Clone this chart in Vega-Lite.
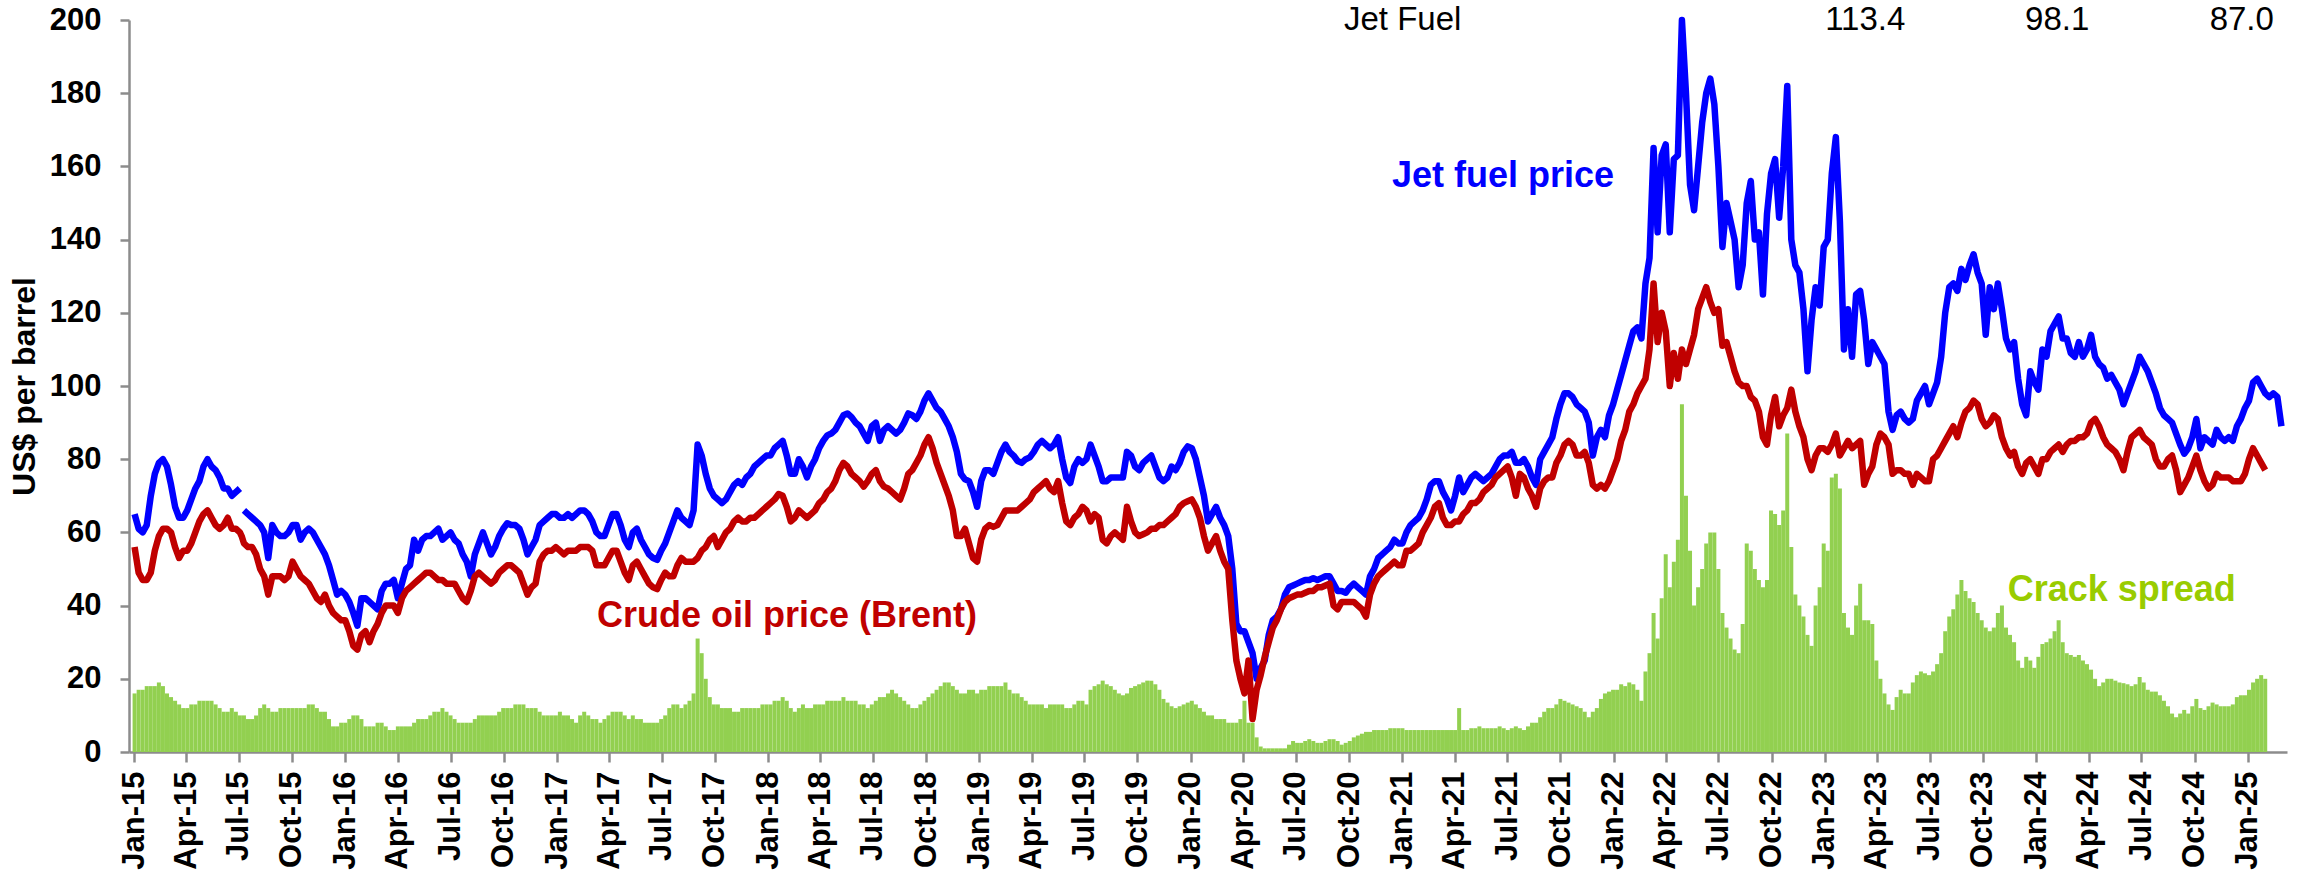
{
"$schema": "https://vega.github.io/schema/vega-lite/v6.json",
"width": 2158, "height": 732,
"autosize": {"type": "none"},
"padding": {"left": 129, "top": 20, "right": 18, "bottom": 127},
"background": "white",
"config": {"view": {"stroke": null}, "font": "Liberation Sans",
 "axisY": {"labelFont": "Liberation Sans", "labelFontSize": 31, "labelFontWeight": "bold", "labelColor": "#000000", "labelPadding": 19,
   "tickSize": 9, "tickWidth": 2.5, "tickColor": "#8C8C8C", "domainColor": "#8C8C8C", "domainWidth": 2.5, "grid": false,
   "titleFont": "Liberation Sans", "titleFontSize": 32, "titleFontWeight": "bold", "titleColor": "#000000", "titlePadding": 8}},
"datasets": {
"prices": [
{"d":"2015-01-02","j":65,"b":56,"c":16},{"d":"2015-01-09","j":61,"b":49,"c":17},{"d":"2015-01-16","j":60,"b":47,"c":17},{"d":"2015-01-23","j":62,"b":47,"c":18},{"d":"2015-01-30","j":70,"b":49,"c":18},{"d":"2015-02-06","j":76,"b":55,"c":18},{"d":"2015-02-13","j":79,"b":59,"c":19},{"d":"2015-02-20","j":80,"b":61,"c":18},{"d":"2015-02-27","j":78,"b":61,"c":16},{"d":"2015-03-06","j":73,"b":60,"c":15},{"d":"2015-03-13","j":67,"b":56,"c":14},{"d":"2015-03-20","j":64,"b":53,"c":13},{"d":"2015-03-27","j":64,"b":55,"c":12},{"d":"2015-04-03","j":66,"b":55,"c":12},{"d":"2015-04-10","j":69,"b":57,"c":13},{"d":"2015-04-17","j":72,"b":60,"c":13},{"d":"2015-04-24","j":74,"b":63,"c":14},{"d":"2015-05-01","j":78,"b":65,"c":14},{"d":"2015-05-08","j":80,"b":66,"c":14},{"d":"2015-05-15","j":78,"b":64,"c":14},{"d":"2015-05-22","j":77,"b":62,"c":13},{"d":"2015-05-29","j":75,"b":61,"c":12},{"d":"2015-06-05","j":72,"b":62,"c":11},{"d":"2015-06-12","j":72,"b":64,"c":11},{"d":"2015-06-19","j":70,"b":61,"c":12},{"d":"2015-06-26","j":71,"b":61,"c":11},{"d":"2015-07-03","j":72,"b":60,"c":10},{"d":"2015-07-06","j":null,"b":59,"c":null},{"d":"2015-07-10","j":66,"b":57,"c":10},{"d":"2015-07-17","j":65,"b":56,"c":9},{"d":"2015-07-24","j":64,"b":56,"c":9},{"d":"2015-07-31","j":63,"b":54,"c":10},{"d":"2015-08-07","j":62,"b":50,"c":12},{"d":"2015-08-14","j":60,"b":48,"c":13},{"d":"2015-08-21","j":53,"b":43,"c":12},{"d":"2015-08-28","j":62,"b":48,"c":11},{"d":"2015-09-04","j":60,"b":48,"c":11},{"d":"2015-09-11","j":59,"b":48,"c":12},{"d":"2015-09-18","j":59,"b":47,"c":12},{"d":"2015-09-25","j":60,"b":48,"c":12},{"d":"2015-10-02","j":62,"b":52,"c":12},{"d":"2015-10-09","j":62,"b":50,"c":12},{"d":"2015-10-16","j":58,"b":48,"c":12},{"d":"2015-10-23","j":60,"b":47,"c":12},{"d":"2015-10-30","j":61,"b":46,"c":13},{"d":"2015-11-06","j":60,"b":44,"c":13},{"d":"2015-11-13","j":58,"b":42,"c":12},{"d":"2015-11-20","j":56,"b":41,"c":11},{"d":"2015-11-27","j":54,"b":43,"c":11},{"d":"2015-12-04","j":51,"b":40,"c":9},{"d":"2015-12-11","j":47,"b":38,"c":7},{"d":"2015-12-18","j":43,"b":37,"c":7},{"d":"2015-12-25","j":44,"b":36,"c":8},
{"d":"2016-01-01","j":43,"b":36,"c":8},{"d":"2016-01-08","j":41,"b":33,"c":9},{"d":"2016-01-15","j":38,"b":29,"c":10},{"d":"2016-01-22","j":34.5,"b":28,"c":10},{"d":"2016-01-29","j":42,"b":32,"c":9},{"d":"2016-02-05","j":42,"b":33,"c":7},{"d":"2016-02-12","j":41,"b":30,"c":7},{"d":"2016-02-19","j":40,"b":33,"c":7},{"d":"2016-02-26","j":39,"b":35,"c":8},{"d":"2016-03-04","j":44,"b":38,"c":8},{"d":"2016-03-11","j":46,"b":40,"c":7},{"d":"2016-03-18","j":46,"b":40,"c":6},{"d":"2016-03-25","j":47,"b":40,"c":6},{"d":"2016-04-01","j":42,"b":38,"c":7},{"d":"2016-04-08","j":46,"b":42,"c":7},{"d":"2016-04-15","j":50,"b":44,"c":7},{"d":"2016-04-22","j":51,"b":45,"c":7},{"d":"2016-04-29","j":58,"b":46,"c":8},{"d":"2016-05-06","j":55,"b":47,"c":9},{"d":"2016-05-13","j":58,"b":48,"c":9},{"d":"2016-05-20","j":59,"b":49,"c":9},{"d":"2016-05-27","j":59,"b":49,"c":10},{"d":"2016-06-03","j":60,"b":48,"c":11},{"d":"2016-06-10","j":61,"b":47,"c":11},{"d":"2016-06-17","j":58,"b":47,"c":12},{"d":"2016-06-24","j":59,"b":46,"c":11},{"d":"2016-07-01","j":60,"b":46,"c":10},{"d":"2016-07-08","j":58,"b":46,"c":9},{"d":"2016-07-15","j":57,"b":44,"c":8},{"d":"2016-07-22","j":54,"b":42,"c":8},{"d":"2016-07-29","j":52,"b":41,"c":8},{"d":"2016-08-05","j":48,"b":44,"c":8},{"d":"2016-08-12","j":54,"b":48,"c":9},{"d":"2016-08-19","j":57,"b":49,"c":10},{"d":"2016-08-26","j":60,"b":48,"c":10},{"d":"2016-09-02","j":57,"b":47,"c":10},{"d":"2016-09-09","j":54,"b":46,"c":10},{"d":"2016-09-16","j":56,"b":47,"c":10},{"d":"2016-09-23","j":59,"b":49,"c":11},{"d":"2016-09-30","j":61,"b":50,"c":12},{"d":"2016-10-07","j":62.5,"b":51,"c":12},{"d":"2016-10-14","j":62,"b":51,"c":12},{"d":"2016-10-21","j":62,"b":50,"c":13},{"d":"2016-10-28","j":61,"b":49,"c":13},{"d":"2016-11-04","j":58,"b":46,"c":13},{"d":"2016-11-11","j":54,"b":43,"c":12},{"d":"2016-11-18","j":56,"b":45,"c":12},{"d":"2016-11-25","j":58,"b":46,"c":12},{"d":"2016-12-02","j":62,"b":52,"c":11},{"d":"2016-12-09","j":63,"b":54,"c":10},{"d":"2016-12-16","j":64,"b":55,"c":10},{"d":"2016-12-23","j":65,"b":55,"c":10},{"d":"2016-12-30","j":65,"b":56,"c":10},
{"d":"2017-01-06","j":64,"b":55,"c":11},{"d":"2017-01-13","j":64,"b":54,"c":10},{"d":"2017-01-20","j":65,"b":55,"c":10},{"d":"2017-01-27","j":64,"b":55,"c":9},{"d":"2017-02-03","j":65,"b":55,"c":8},{"d":"2017-02-10","j":66,"b":56,"c":10},{"d":"2017-02-17","j":66,"b":56,"c":11},{"d":"2017-02-24","j":65,"b":56,"c":10},{"d":"2017-03-03","j":63,"b":55,"c":9},{"d":"2017-03-10","j":60,"b":51,"c":9},{"d":"2017-03-17","j":59,"b":51,"c":8},{"d":"2017-03-24","j":59,"b":51,"c":9},{"d":"2017-03-31","j":62,"b":53,"c":10},{"d":"2017-04-07","j":65,"b":55,"c":11},{"d":"2017-04-14","j":65,"b":55,"c":11},{"d":"2017-04-21","j":62,"b":52,"c":11},{"d":"2017-04-28","j":58,"b":49,"c":10},{"d":"2017-05-05","j":56,"b":47,"c":9},{"d":"2017-05-12","j":60,"b":51,"c":10},{"d":"2017-05-19","j":61,"b":52,"c":9},{"d":"2017-05-26","j":58,"b":50,"c":9},{"d":"2017-06-02","j":56,"b":48,"c":8},{"d":"2017-06-09","j":54,"b":46,"c":8},{"d":"2017-06-16","j":53,"b":45,"c":8},{"d":"2017-06-23","j":52.5,"b":44.5,"c":8},{"d":"2017-06-30","j":55,"b":47,"c":9},{"d":"2017-07-07","j":57,"b":49,"c":10},{"d":"2017-07-14","j":60,"b":48,"c":12},{"d":"2017-07-21","j":63,"b":48,"c":13},{"d":"2017-07-28","j":66,"b":51,"c":13},{"d":"2017-08-04","j":64,"b":53,"c":12},{"d":"2017-08-11","j":63,"b":52,"c":13},{"d":"2017-08-18","j":62,"b":52,"c":14},{"d":"2017-08-25","j":66,"b":52,"c":16},{"d":"2017-09-01","j":84,"b":53,"c":31},{"d":"2017-09-08","j":81,"b":55,"c":27},{"d":"2017-09-15","j":76,"b":56,"c":20},{"d":"2017-09-22","j":72,"b":58,"c":15},{"d":"2017-09-29","j":70,"b":59,"c":13},{"d":"2017-10-06","j":69,"b":56,"c":13},{"d":"2017-10-13","j":68,"b":58,"c":12},{"d":"2017-10-20","j":69,"b":60,"c":12},{"d":"2017-10-27","j":71,"b":61,"c":12},{"d":"2017-11-03","j":73,"b":63,"c":11},{"d":"2017-11-10","j":74,"b":64,"c":11},{"d":"2017-11-17","j":73,"b":63,"c":12},{"d":"2017-11-24","j":75,"b":63,"c":12},{"d":"2017-12-01","j":76,"b":64,"c":12},{"d":"2017-12-08","j":78,"b":64,"c":12},{"d":"2017-12-15","j":79,"b":65,"c":12},{"d":"2017-12-22","j":80,"b":66,"c":13},{"d":"2017-12-29","j":81,"b":67,"c":13},
{"d":"2018-01-05","j":81,"b":68,"c":13},{"d":"2018-01-12","j":83,"b":69,"c":14},{"d":"2018-01-19","j":84,"b":70.5,"c":14},{"d":"2018-01-26","j":85,"b":70,"c":15},{"d":"2018-02-02","j":81,"b":67,"c":14},{"d":"2018-02-09","j":76,"b":63,"c":12},{"d":"2018-02-16","j":76,"b":64,"c":11},{"d":"2018-02-23","j":80,"b":66,"c":12},{"d":"2018-03-02","j":78,"b":65,"c":13},{"d":"2018-03-09","j":75,"b":64,"c":12},{"d":"2018-03-16","j":78,"b":65,"c":12},{"d":"2018-03-23","j":80,"b":66,"c":13},{"d":"2018-03-30","j":83,"b":68,"c":13},{"d":"2018-04-06","j":85,"b":69,"c":13},{"d":"2018-04-13","j":86.5,"b":71,"c":14},{"d":"2018-04-20","j":87,"b":72,"c":14},{"d":"2018-04-27","j":88,"b":74,"c":14},{"d":"2018-05-04","j":90,"b":77,"c":14},{"d":"2018-05-11","j":92,"b":79,"c":15},{"d":"2018-05-18","j":92.5,"b":78,"c":14},{"d":"2018-05-25","j":91.5,"b":76,"c":14},{"d":"2018-06-01","j":90,"b":75,"c":14},{"d":"2018-06-08","j":89,"b":74,"c":13},{"d":"2018-06-15","j":87,"b":72.5,"c":13},{"d":"2018-06-22","j":85,"b":74,"c":12},{"d":"2018-06-29","j":89,"b":76,"c":13},{"d":"2018-07-06","j":90,"b":77,"c":14},{"d":"2018-07-13","j":85,"b":74,"c":15},{"d":"2018-07-20","j":88,"b":72.5,"c":15},{"d":"2018-07-27","j":89,"b":72,"c":16},{"d":"2018-08-03","j":88,"b":71,"c":17},{"d":"2018-08-10","j":87,"b":70,"c":16},{"d":"2018-08-17","j":88,"b":69,"c":15},{"d":"2018-08-24","j":90,"b":72,"c":14},{"d":"2018-08-31","j":92.5,"b":76,"c":13},{"d":"2018-09-07","j":92,"b":77,"c":12},{"d":"2018-09-14","j":91,"b":79,"c":12},{"d":"2018-09-21","j":93,"b":81,"c":13},{"d":"2018-09-28","j":96,"b":84,"c":14},{"d":"2018-10-05","j":98,"b":86,"c":15},{"d":"2018-10-12","j":96,"b":83,"c":16},{"d":"2018-10-19","j":94,"b":79,"c":17},{"d":"2018-10-26","j":93,"b":76,"c":18},{"d":"2018-11-02","j":91,"b":73,"c":19},{"d":"2018-11-09","j":89,"b":70,"c":19},{"d":"2018-11-16","j":86,"b":66,"c":18},{"d":"2018-11-23","j":82,"b":59,"c":17},{"d":"2018-11-30","j":76,"b":59,"c":16},{"d":"2018-12-07","j":74.5,"b":61,"c":16},{"d":"2018-12-14","j":74,"b":57,"c":17},{"d":"2018-12-21","j":71,"b":53,"c":17},{"d":"2018-12-28","j":67,"b":52,"c":16},
{"d":"2019-01-04","j":74,"b":58,"c":17},{"d":"2019-01-11","j":77,"b":61,"c":17},{"d":"2019-01-18","j":77,"b":62,"c":18},{"d":"2019-01-25","j":76,"b":61.5,"c":18},{"d":"2019-02-01","j":79,"b":62,"c":18},{"d":"2019-02-08","j":82,"b":64,"c":18},{"d":"2019-02-15","j":84,"b":66,"c":19},{"d":"2019-02-22","j":82,"b":66,"c":17},{"d":"2019-03-01","j":81,"b":66,"c":16},{"d":"2019-03-08","j":79.5,"b":66,"c":16},{"d":"2019-03-15","j":79,"b":67,"c":15},{"d":"2019-03-22","j":80,"b":68,"c":14},{"d":"2019-03-29","j":80.5,"b":69,"c":13},{"d":"2019-04-05","j":82,"b":71,"c":13},{"d":"2019-04-12","j":84,"b":72,"c":13},{"d":"2019-04-19","j":85,"b":73,"c":13},{"d":"2019-04-26","j":84,"b":74,"c":12},{"d":"2019-05-03","j":83,"b":72,"c":13},{"d":"2019-05-10","j":84,"b":71,"c":13},{"d":"2019-05-17","j":86,"b":74,"c":13},{"d":"2019-05-24","j":80,"b":68,"c":13},{"d":"2019-05-31","j":75,"b":63,"c":12},{"d":"2019-06-07","j":73.5,"b":62,"c":12},{"d":"2019-06-14","j":78,"b":64,"c":13},{"d":"2019-06-21","j":80,"b":65,"c":14},{"d":"2019-06-28","j":79,"b":67,"c":14},{"d":"2019-07-05","j":80,"b":66,"c":13},{"d":"2019-07-12","j":84,"b":63,"c":17},{"d":"2019-07-19","j":81,"b":65,"c":18},{"d":"2019-07-26","j":78,"b":64,"c":18.5},{"d":"2019-08-02","j":74,"b":58,"c":19.5},{"d":"2019-08-09","j":74,"b":57,"c":18.5},{"d":"2019-08-16","j":75,"b":59,"c":18},{"d":"2019-08-23","j":75,"b":60,"c":17},{"d":"2019-08-30","j":75,"b":59,"c":16},{"d":"2019-09-06","j":75,"b":58,"c":15.5},{"d":"2019-09-13","j":82,"b":67,"c":16},{"d":"2019-09-20","j":81,"b":63,"c":17.5},{"d":"2019-09-27","j":78,"b":60,"c":18},{"d":"2019-10-04","j":77,"b":59,"c":18.5},{"d":"2019-10-11","j":79,"b":59.5,"c":19},{"d":"2019-10-18","j":80,"b":60,"c":19.5},{"d":"2019-10-25","j":81,"b":61,"c":19.5},{"d":"2019-11-01","j":78,"b":61,"c":18.5},{"d":"2019-11-08","j":75,"b":62,"c":17},{"d":"2019-11-15","j":74,"b":62,"c":14.5},{"d":"2019-11-22","j":75,"b":63,"c":13.5},{"d":"2019-11-29","j":78,"b":64,"c":12.5},{"d":"2019-12-06","j":77,"b":65,"c":12},{"d":"2019-12-13","j":79,"b":67,"c":12.5},{"d":"2019-12-20","j":82,"b":68,"c":13},{"d":"2019-12-27","j":83.5,"b":68.5,"c":13.5},
{"d":"2020-01-03","j":83,"b":69,"c":14},{"d":"2020-01-10","j":80,"b":67,"c":13},{"d":"2020-01-17","j":75,"b":64,"c":12},{"d":"2020-01-24","j":70,"b":59,"c":11},{"d":"2020-01-31","j":63,"b":55,"c":10},{"d":"2020-02-07","j":65,"b":57,"c":10},{"d":"2020-02-14","j":67,"b":59,"c":9},{"d":"2020-02-21","j":64,"b":55,"c":9},{"d":"2020-02-28","j":62,"b":52,"c":9},{"d":"2020-03-06","j":59,"b":50,"c":8},{"d":"2020-03-13","j":50,"b":36,"c":8},{"d":"2020-03-20","j":35,"b":25,"c":8},{"d":"2020-03-27","j":33,"b":20,"c":9},{"d":"2020-04-03","j":33,"b":16,"c":14},{"d":"2020-04-10","j":30,"b":25,"c":8},{"d":"2020-04-17","j":27,"b":9,"c":8},{"d":"2020-04-24","j":20,"b":17,"c":4},{"d":"2020-05-01","j":23,"b":21,"c":1.5},{"d":"2020-05-08","j":25,"b":26,"c":1},{"d":"2020-05-15","j":32,"b":30,"c":1},{"d":"2020-05-22","j":36,"b":34,"c":1},{"d":"2020-05-29","j":37,"b":36,"c":1},{"d":"2020-06-05","j":39,"b":39,"c":1},{"d":"2020-06-12","j":43,"b":41,"c":1},{"d":"2020-06-19","j":45,"b":42,"c":2},{"d":"2020-06-26","j":45.5,"b":42.5,"c":3},{"d":"2020-07-03","j":46,"b":43,"c":2.5},{"d":"2020-07-10","j":46.5,"b":43,"c":2.5},{"d":"2020-07-17","j":47,"b":43.5,"c":3},{"d":"2020-07-24","j":47,"b":44,"c":3.5},{"d":"2020-07-31","j":47.5,"b":44,"c":3},{"d":"2020-08-07","j":47,"b":45,"c":2.5},{"d":"2020-08-14","j":47.5,"b":45,"c":2.5},{"d":"2020-08-21","j":48,"b":45.5,"c":3},{"d":"2020-08-28","j":48,"b":46,"c":3.5},{"d":"2020-09-04","j":46,"b":40,"c":3.5},{"d":"2020-09-11","j":44,"b":39,"c":3},{"d":"2020-09-18","j":44,"b":41,"c":2},{"d":"2020-09-25","j":43.5,"b":41,"c":2.5},{"d":"2020-10-02","j":45,"b":41,"c":3},{"d":"2020-10-09","j":46,"b":41,"c":4},{"d":"2020-10-16","j":45,"b":40,"c":4.5},{"d":"2020-10-23","j":44,"b":39,"c":5},{"d":"2020-10-30","j":43,"b":37,"c":5.5},{"d":"2020-11-06","j":48,"b":43,"c":5.5},{"d":"2020-11-13","j":50,"b":46,"c":6},{"d":"2020-11-20","j":53,"b":48,"c":6},{"d":"2020-11-27","j":54,"b":49,"c":6},{"d":"2020-12-04","j":55,"b":50,"c":6},{"d":"2020-12-11","j":56,"b":51,"c":6.5},{"d":"2020-12-18","j":58,"b":52,"c":6.5},{"d":"2020-12-25","j":57,"b":51,"c":6.5},
{"d":"2021-01-01","j":57,"b":51,"c":6.5},{"d":"2021-01-08","j":60,"b":55,"c":6},{"d":"2021-01-15","j":62,"b":55,"c":6},{"d":"2021-01-22","j":63,"b":56,"c":6},{"d":"2021-01-29","j":64,"b":57,"c":6},{"d":"2021-02-05","j":66,"b":60,"c":6},{"d":"2021-02-12","j":69,"b":62,"c":6},{"d":"2021-02-19","j":73,"b":64,"c":6},{"d":"2021-02-26","j":74,"b":67,"c":6},{"d":"2021-03-05","j":74,"b":68,"c":6},{"d":"2021-03-12","j":71,"b":64,"c":6},{"d":"2021-03-19","j":69,"b":62,"c":6},{"d":"2021-03-26","j":66,"b":62,"c":6},{"d":"2021-04-02","j":70,"b":63,"c":6},{"d":"2021-04-09","j":75,"b":63,"c":12},{"d":"2021-04-16","j":71,"b":65,"c":6},{"d":"2021-04-23","j":73,"b":66,"c":6},{"d":"2021-04-30","j":75,"b":68,"c":6.5},{"d":"2021-05-07","j":76,"b":68,"c":6.5},{"d":"2021-05-14","j":75,"b":69,"c":7},{"d":"2021-05-21","j":74,"b":71,"c":6.5},{"d":"2021-05-28","j":75,"b":72,"c":6.5},{"d":"2021-06-04","j":76,"b":73,"c":6.5},{"d":"2021-06-11","j":78,"b":75,"c":6.5},{"d":"2021-06-18","j":80,"b":76,"c":7},{"d":"2021-06-25","j":81,"b":77,"c":6.5},{"d":"2021-07-02","j":81,"b":78,"c":6},{"d":"2021-07-09","j":82,"b":75,"c":6.5},{"d":"2021-07-16","j":79,"b":70,"c":7},{"d":"2021-07-23","j":79,"b":76,"c":6.5},{"d":"2021-07-30","j":80,"b":75,"c":6},{"d":"2021-08-06","j":78,"b":72,"c":7},{"d":"2021-08-13","j":75,"b":70,"c":8},{"d":"2021-08-20","j":73,"b":67,"c":8},{"d":"2021-08-27","j":80,"b":72,"c":9.5},{"d":"2021-09-03","j":82,"b":74,"c":11},{"d":"2021-09-10","j":84,"b":75,"c":12},{"d":"2021-09-17","j":86,"b":75,"c":12},{"d":"2021-09-24","j":91,"b":79,"c":13},{"d":"2021-10-01","j":95,"b":81,"c":14.5},{"d":"2021-10-08","j":98,"b":84,"c":14},{"d":"2021-10-15","j":98,"b":85,"c":13.5},{"d":"2021-10-22","j":97,"b":84,"c":13},{"d":"2021-10-29","j":95,"b":81,"c":12.5},{"d":"2021-11-05","j":94,"b":81,"c":12},{"d":"2021-11-12","j":93,"b":82,"c":11},{"d":"2021-11-19","j":90,"b":79,"c":9.5},{"d":"2021-11-26","j":81,"b":73,"c":11},{"d":"2021-12-03","j":86,"b":72,"c":12},{"d":"2021-12-10","j":88,"b":73,"c":14.5},{"d":"2021-12-17","j":86,"b":72,"c":16},{"d":"2021-12-24","j":92,"b":74,"c":16.5},{"d":"2021-12-31","j":95,"b":77,"c":17},
{"d":"2022-01-07","j":99,"b":80,"c":17},{"d":"2022-01-14","j":103,"b":85,"c":18.5},{"d":"2022-01-21","j":107,"b":88,"c":18},{"d":"2022-01-28","j":111,"b":93,"c":19},{"d":"2022-02-04","j":115,"b":95,"c":18.5},{"d":"2022-02-11","j":116,"b":98,"c":17},{"d":"2022-02-18","j":113,"b":100,"c":14},{"d":"2022-02-25","j":128,"b":102,"c":22},{"d":"2022-03-04","j":135,"b":110,"c":27},{"d":"2022-03-11","j":165,"b":128,"c":38},{"d":"2022-03-18","j":142,"b":112,"c":31},{"d":"2022-03-25","j":163,"b":120,"c":42},{"d":"2022-04-01","j":166,"b":115,"c":54},{"d":"2022-04-08","j":142,"b":100,"c":45},{"d":"2022-04-15","j":162,"b":109,"c":52},{"d":"2022-04-22","j":163,"b":102,"c":58},{"d":"2022-04-29","j":200,"b":110,"c":95},{"d":"2022-05-06","j":180,"b":106,"c":70},{"d":"2022-05-13","j":155,"b":110,"c":55},{"d":"2022-05-20","j":148,"b":114,"c":40},{"d":"2022-05-27","j":160,"b":121,"c":45},{"d":"2022-06-03","j":172,"b":124,"c":50},{"d":"2022-06-10","j":180,"b":127,"c":57},{"d":"2022-06-17","j":184,"b":123,"c":60},{"d":"2022-06-24","j":177,"b":120,"c":60},{"d":"2022-07-01","j":160,"b":121,"c":50},{"d":"2022-07-08","j":138,"b":111,"c":38},{"d":"2022-07-15","j":150,"b":112,"c":34},{"d":"2022-07-22","j":145,"b":108,"c":31},{"d":"2022-07-29","j":140,"b":104,"c":28},{"d":"2022-08-05","j":127,"b":101,"c":27},{"d":"2022-08-12","j":133,"b":100,"c":35},{"d":"2022-08-19","j":150,"b":100,"c":57},{"d":"2022-08-26","j":156,"b":97,"c":55},{"d":"2022-09-02","j":140,"b":96,"c":50},{"d":"2022-09-09","j":142,"b":93,"c":47},{"d":"2022-09-16","j":125,"b":86,"c":45},{"d":"2022-09-23","j":147,"b":84,"c":47},{"d":"2022-09-30","j":158,"b":92,"c":66},{"d":"2022-10-07","j":162,"b":97,"c":65},{"d":"2022-10-14","j":146,"b":89,"c":62},{"d":"2022-10-21","j":160,"b":92,"c":66},{"d":"2022-10-28","j":182,"b":94,"c":87},{"d":"2022-11-04","j":140,"b":99,"c":56},{"d":"2022-11-11","j":133,"b":93,"c":43},{"d":"2022-11-18","j":131,"b":89,"c":40},{"d":"2022-11-25","j":121,"b":86,"c":37},{"d":"2022-12-02","j":104,"b":80,"c":32},{"d":"2022-12-09","j":118,"b":77,"c":29},{"d":"2022-12-16","j":127,"b":81,"c":40},{"d":"2022-12-23","j":122,"b":83,"c":45},{"d":"2022-12-30","j":138,"b":83,"c":57},
{"d":"2023-01-06","j":140,"b":82,"c":55},{"d":"2023-01-13","j":158,"b":84,"c":75},{"d":"2023-01-20","j":168,"b":87,"c":76},{"d":"2023-01-27","j":145,"b":81,"c":72},{"d":"2023-02-03","j":110,"b":83,"c":38},{"d":"2023-02-10","j":121,"b":85,"c":34},{"d":"2023-02-17","j":108,"b":83,"c":32},{"d":"2023-02-24","j":125,"b":84,"c":40},{"d":"2023-03-03","j":126,"b":85,"c":46},{"d":"2023-03-10","j":118,"b":73,"c":36},{"d":"2023-03-17","j":106,"b":76,"c":36},{"d":"2023-03-24","j":112,"b":78,"c":35},{"d":"2023-03-31","j":110,"b":84,"c":25},{"d":"2023-04-07","j":108,"b":87,"c":20},{"d":"2023-04-14","j":106,"b":86,"c":16},{"d":"2023-04-21","j":93,"b":84,"c":13},{"d":"2023-04-28","j":88,"b":76,"c":11.5},{"d":"2023-05-05","j":92,"b":77,"c":15},{"d":"2023-05-12","j":93,"b":77,"c":17},{"d":"2023-05-19","j":91,"b":76,"c":16},{"d":"2023-05-26","j":90,"b":76,"c":16},{"d":"2023-06-02","j":91,"b":73,"c":19},{"d":"2023-06-09","j":96,"b":76,"c":21},{"d":"2023-06-16","j":98,"b":75,"c":22},{"d":"2023-06-23","j":100,"b":74,"c":21.5},{"d":"2023-06-30","j":95,"b":74,"c":21},{"d":"2023-07-07","j":98,"b":80,"c":22},{"d":"2023-07-14","j":101,"b":81,"c":24},{"d":"2023-07-21","j":108,"b":83,"c":27},{"d":"2023-07-28","j":120,"b":85,"c":33},{"d":"2023-08-04","j":127,"b":87,"c":37},{"d":"2023-08-11","j":128,"b":89,"c":39},{"d":"2023-08-18","j":126,"b":86,"c":43},{"d":"2023-08-25","j":132,"b":90,"c":47},{"d":"2023-09-01","j":129,"b":93,"c":44},{"d":"2023-09-08","j":133,"b":94,"c":42},{"d":"2023-09-15","j":136,"b":96,"c":41},{"d":"2023-09-22","j":131,"b":95,"c":38},{"d":"2023-09-29","j":128,"b":91,"c":36},{"d":"2023-10-06","j":114,"b":89,"c":34},{"d":"2023-10-13","j":127,"b":90,"c":33},{"d":"2023-10-20","j":121,"b":92,"c":34},{"d":"2023-10-27","j":128,"b":91,"c":38},{"d":"2023-11-03","j":121,"b":86,"c":40},{"d":"2023-11-10","j":113,"b":83,"c":34},{"d":"2023-11-17","j":110,"b":81,"c":32},{"d":"2023-11-24","j":112,"b":82,"c":30},{"d":"2023-12-01","j":102,"b":78,"c":25},{"d":"2023-12-08","j":95,"b":76,"c":23},{"d":"2023-12-15","j":92,"b":79,"c":26},{"d":"2023-12-22","j":104,"b":80,"c":25},{"d":"2023-12-29","j":101,"b":78,"c":23},
{"d":"2024-01-05","j":99,"b":76,"c":26},{"d":"2024-01-12","j":110,"b":80,"c":29.5},{"d":"2024-01-19","j":108,"b":80,"c":30},{"d":"2024-01-26","j":115,"b":82,"c":31},{"d":"2024-02-02","j":117,"b":83,"c":33},{"d":"2024-02-09","j":119,"b":84,"c":36},{"d":"2024-02-16","j":113,"b":82,"c":30},{"d":"2024-02-23","j":113,"b":84,"c":27},{"d":"2024-03-01","j":109,"b":85,"c":26.5},{"d":"2024-03-08","j":108,"b":85,"c":26},{"d":"2024-03-15","j":112,"b":86,"c":26.5},{"d":"2024-03-22","j":108,"b":86,"c":25},{"d":"2024-03-29","j":110,"b":87,"c":24},{"d":"2024-04-05","j":114,"b":90,"c":22.5},{"d":"2024-04-12","j":108,"b":91,"c":20},{"d":"2024-04-19","j":106,"b":89,"c":18},{"d":"2024-04-26","j":105,"b":86,"c":19},{"d":"2024-05-03","j":102,"b":84,"c":20},{"d":"2024-05-10","j":103,"b":83,"c":20},{"d":"2024-05-17","j":101,"b":82,"c":19.5},{"d":"2024-05-24","j":99,"b":80,"c":19},{"d":"2024-05-31","j":95,"b":77,"c":18.8},{"d":"2024-06-07","j":98,"b":82,"c":18.5},{"d":"2024-06-14","j":101,"b":86,"c":18},{"d":"2024-06-21","j":104,"b":87,"c":18.5},{"d":"2024-06-28","j":108,"b":88,"c":20.5},{"d":"2024-07-05","j":106,"b":86,"c":19},{"d":"2024-07-12","j":104,"b":85,"c":17},{"d":"2024-07-19","j":101,"b":84,"c":16.5},{"d":"2024-07-26","j":98,"b":80,"c":16.5},{"d":"2024-08-02","j":94,"b":78,"c":15.5},{"d":"2024-08-09","j":92,"b":78,"c":14},{"d":"2024-08-16","j":91,"b":80,"c":12.5},{"d":"2024-08-23","j":90,"b":81,"c":10.5},{"d":"2024-08-30","j":87,"b":77,"c":9.5},{"d":"2024-09-06","j":84,"b":71,"c":10.5},{"d":"2024-09-13","j":81.5,"b":73,"c":11.5},{"d":"2024-09-20","j":83,"b":75,"c":10.5},{"d":"2024-09-27","j":86,"b":78,"c":12.5},{"d":"2024-10-04","j":91,"b":81,"c":14.5},{"d":"2024-10-11","j":83,"b":77,"c":12},{"d":"2024-10-18","j":86,"b":74,"c":11.5},{"d":"2024-10-25","j":85,"b":72,"c":12.5},{"d":"2024-11-01","j":84,"b":73,"c":13.5},{"d":"2024-11-08","j":88,"b":76,"c":13},{"d":"2024-11-15","j":86,"b":75,"c":12.5},{"d":"2024-11-22","j":85,"b":75,"c":12.5},{"d":"2024-11-29","j":86,"b":75,"c":12.5},{"d":"2024-12-06","j":85,"b":74,"c":13},{"d":"2024-12-13","j":89,"b":74,"c":15},{"d":"2024-12-20","j":91,"b":74,"c":15.5},{"d":"2024-12-27","j":94,"b":76,"c":15.5},
{"d":"2025-01-03","j":96,"b":80,"c":17},{"d":"2025-01-10","j":101,"b":83,"c":19},{"d":"2025-01-17","j":102,"b":81,"c":20},{"d":"2025-01-24","j":100,"b":79,"c":21},{"d":"2025-01-31","j":98,"b":77,"c":20},{"d":"2025-02-07","j":97,"b":null,"c":null},{"d":"2025-02-14","j":98,"b":null,"c":null},{"d":"2025-02-21","j":97,"b":null,"c":null},{"d":"2025-02-28","j":89,"b":null,"c":null}
],
"notes": [
{"d":"2020-12-14","v":154.4,"t":"Jet fuel price","k":"jet"},
{"d":"2017-03-11","v":34.2,"t":"Crude oil price (Brent)","k":"brent"},
{"d":"2023-11-13","v":41.3,"t":"Crack spread","k":"crack"},
{"d":"2020-09-22","v":197.4,"t":"Jet Fuel","k":"hdr"},
{"d":"2023-05-20","v":197.4,"t":"113.4","k":"num"},
{"d":"2024-04-02","v":197.4,"t":"98.1","k":"num"},
{"d":"2025-02-15","v":197.4,"t":"87.0","k":"num"}
]
},
"encoding": {
"x": {"field": "d", "type": "temporal",
 "scale": {"type": "utc", "domain": [{"year": 2015, "month": 1, "date": 1, "utc": true}, {"year": 2025, "month": 3, "date": 1, "utc": true}]},
 "axis": {"title": null, "format": "%b-%y", "tickCount": {"interval": "month", "step": 3}, "labelAngle": -90,
  "labelFont": "Liberation Sans", "labelFontSize": 31, "labelFontWeight": "bold", "labelColor": "#000000",
  "labelPadding": 9, "tickSize": 10, "tickWidth": 2.5, "tickColor": "#8C8C8C", "domainColor": "#8C8C8C", "domainWidth": 2.5,
  "grid": false, "labelOverlap": false, "labelFlush": false, "labelBound": false}}
},
"layer": [
{"data": {"name": "prices"},
 "mark": {"type": "bar", "color": "#92D050", "size": 4},
 "encoding": {"y": {"field": "c", "type": "quantitative", "scale": {"domain": [0, 200], "nice": false},
  "axis": {"title": "US$ per barrel", "values": [0,20,40,60,80,100,120,140,160,180,200]}}}},
{"data": {"name": "prices"},
 "mark": {"type": "line", "color": "#0000FF", "strokeWidth": 6.5, "strokeJoin": "round", "invalid": "break-paths-show-domains"},
 "encoding": {"y": {"field": "j", "type": "quantitative", "scale": {"domain": [0, 200], "nice": false},
  "axis": {"title": "US$ per barrel", "values": [0,20,40,60,80,100,120,140,160,180,200]}}}},
{"data": {"name": "prices"},
 "mark": {"type": "line", "color": "#C00000", "strokeWidth": 6.5, "strokeJoin": "round", "invalid": "break-paths-show-domains"},
 "encoding": {"y": {"field": "b", "type": "quantitative", "scale": {"domain": [0, 200], "nice": false},
  "axis": {"title": "US$ per barrel", "values": [0,20,40,60,80,100,120,140,160,180,200]}}}},
{"data": {"name": "notes"}, "transform": [{"filter": "datum.k == 'jet'"}],
 "mark": {"type": "text", "color": "#0000FF", "font": "Liberation Sans", "fontSize": 36, "fontWeight": "bold", "align": "left", "baseline": "alphabetic"},
 "encoding": {"y": {"field": "v", "type": "quantitative", "scale": {"domain": [0, 200], "nice": false},
  "axis": {"title": "US$ per barrel", "values": [0,20,40,60,80,100,120,140,160,180,200]}}, "text": {"field": "t"}}},
{"data": {"name": "notes"}, "transform": [{"filter": "datum.k == 'brent'"}],
 "mark": {"type": "text", "color": "#C00000", "font": "Liberation Sans", "fontSize": 36, "fontWeight": "bold", "align": "left", "baseline": "alphabetic"},
 "encoding": {"y": {"field": "v", "type": "quantitative", "scale": {"domain": [0, 200], "nice": false},
  "axis": {"title": "US$ per barrel", "values": [0,20,40,60,80,100,120,140,160,180,200]}}, "text": {"field": "t"}}},
{"data": {"name": "notes"}, "transform": [{"filter": "datum.k == 'crack'"}],
 "mark": {"type": "text", "color": "#99CC00", "font": "Liberation Sans", "fontSize": 36, "fontWeight": "bold", "align": "left", "baseline": "alphabetic"},
 "encoding": {"y": {"field": "v", "type": "quantitative", "scale": {"domain": [0, 200], "nice": false},
  "axis": {"title": "US$ per barrel", "values": [0,20,40,60,80,100,120,140,160,180,200]}}, "text": {"field": "t"}}},
{"data": {"name": "notes"}, "transform": [{"filter": "datum.k == 'hdr'"}],
 "mark": {"type": "text", "color": "#000000", "font": "Liberation Sans", "fontSize": 33, "align": "left", "baseline": "alphabetic"},
 "encoding": {"y": {"field": "v", "type": "quantitative", "scale": {"domain": [0, 200], "nice": false},
  "axis": {"title": "US$ per barrel", "values": [0,20,40,60,80,100,120,140,160,180,200]}}, "text": {"field": "t"}}},
{"data": {"name": "notes"}, "transform": [{"filter": "datum.k == 'num'"}],
 "mark": {"type": "text", "color": "#000000", "font": "Liberation Sans", "fontSize": 33, "align": "right", "baseline": "alphabetic"},
 "encoding": {"y": {"field": "v", "type": "quantitative", "scale": {"domain": [0, 200], "nice": false},
  "axis": {"title": "US$ per barrel", "values": [0,20,40,60,80,100,120,140,160,180,200]}}, "text": {"field": "t"}}}
]
}
